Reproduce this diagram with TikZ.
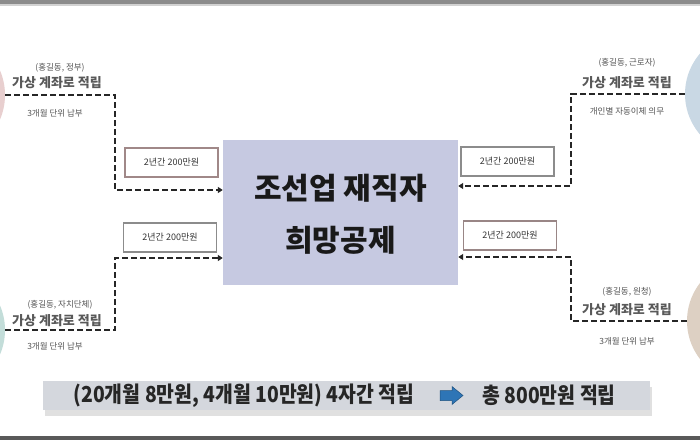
\documentclass[tikz,border=0pt]{standalone}
\usepackage{fontspec}
\setmainfont{Noto Sans CJK KR}
\newfontfamily\cjkc[FakeStretch=0.88]{Noto Sans CJK KR}
\usetikzlibrary{arrows.meta}
\definecolor{mainfill}{HTML}{C6C9E1}
\definecolor{bannerfill}{HTML}{D4D7DD}
\definecolor{labelgray}{HTML}{555555}
\definecolor{pinkc}{HTML}{E8CFCF}
\definecolor{bluec}{HTML}{C9D8E4}
\definecolor{tealc}{HTML}{C3DDD9}
\definecolor{beigec}{HTML}{DDD0C3}
\definecolor{arrowblue}{HTML}{2E75B6}
\definecolor{boxbrown}{HTML}{A08888}
\definecolor{boxgray}{HTML}{8C8C8C}
\tikzset{
  dl/.style={line width=2.2pt,dash pattern=on 6pt off 3pt,black!85},
  dlarrow/.style={dl,-{Triangle[length=5pt,width=6pt]}},
  amtbox/.style={draw=#1,line width=1.2pt,fill=white,minimum width=93pt,minimum height=29pt,inner sep=0pt,font=\fontsize{9}{11}\selectfont,text=black!80},
  who/.style={font=\fontsize{8.5}{10}\selectfont,text=labelgray},
  acct/.style={font=\fontsize{13}{14}\bfseries\selectfont,text=black!65},
  note/.style={font=\fontsize{8.5}{10}\selectfont,text=labelgray},
  party/.style={circle,minimum size=124pt,inner sep=0pt,draw=none,fill=#1},
  bigtext/.style={font=\fontsize{30}{32}\bfseries\selectfont,text=black!90},
  bantext/.style={font=\cjkc\bfseries\fontsize{22}{24}\selectfont,text=black!85},
}
\begin{document}
\begin{tikzpicture}[x=1pt,y=1pt]
\useasboundingbox (0,0) rectangle (700,440);
\clip (0,0) rectangle (700,440);
\fill[white] (0,0) rectangle (700,440);
% top and bottom rules
\fill[gray!90] (0,436) rectangle (700,440);
\fill[gray!35] (0,434) rectangle (700,436);
\fill[black!65] (0,0) rectangle (700,4);
% parties (circles cut by the frame)
\node[party=pinkc] (cTL) at (-57,345) {};
\node[party=bluec] (cTR) at (747,346) {};
\node[party=tealc] (cBL) at (-57,110) {};
\node[party=beigec] (cBR) at (749,119) {};
% central box
\node[fill=mainfill,minimum width=235pt,minimum height=145pt,inner sep=0pt] (main) at (340.5,227.5) {};
\node[bigtext] (t1) at (340.5,252) {조선업 재직자};
\node[bigtext] (t2) at (340.5,200) {희망공제};
% amount boxes
\node[amtbox=boxbrown] (bTL) at (171.5,277.5) {2년간 200만원};
\node[amtbox=boxgray] (bTR) at (507.5,278.5) {2년간 200만원};
\node[amtbox=boxgray] (bBL) at (170,202.5) {2년간 200만원};
\node[amtbox=boxbrown!80!gray] (bBR) at (510,204.5) {2년간 200만원};
% corners of connectors
\coordinate (kTL1) at (115,345); \coordinate (kTL2) at (115,250);
\coordinate (kTR1) at (571,346); \coordinate (kTR2) at (571,254);
\coordinate (kBL1) at (115,110); \coordinate (kBL2) at (115,182);
\coordinate (kBR1) at (571,119); \coordinate (kBR2) at (571,183);
\draw[dlarrow] (cTL.east) -- (kTL1) -- (kTL2) -- (kTL2 -| main.west);
\draw[dlarrow] (cTR.west) -- (kTR1) -- (kTR2) -- (kTR2 -| main.east);
\draw[dlarrow] (cBL.east) -- (kBL1) -- (kBL2) -- (kBL2 -| main.west);
\draw[dlarrow] (cBR.west) -- (kBR1) -- (kBR2) -- (kBR2 -| main.east);
% labels
\node[who] (wTL) at (60,372) {(홍길동, 정부)};
\node[acct] (aTL) at (57,357) {가상 계좌로 적립};
\node[note] (nTL) at (55,327) {3개월 단위 납부};
\node[who] (wTR) at (627,377) {(홍길동, 근로자)};
\node[acct] (aTR) at (627,357) {가상 계좌로 적립};
\node[note] (nTR) at (627,329) {개인별 자동이체 의무};
\node[who] (wBL) at (60,135) {(홍길동, 자치단체)};
\node[acct] (aBL) at (57,119) {가상 계좌로 적립};
\node[note] (nBL) at (55,94) {3개월 단위 납부};
\node[who] (wBR) at (627,148) {(홍길동, 원청)};
\node[acct] (aBR) at (627,130) {가상 계좌로 적립};
\node[note] (nBR) at (627,99) {3개월 단위 납부};
% banner
\fill[black!12] (45,24) rectangle (652,53);
\node[fill=bannerfill,minimum width=607pt,minimum height=29pt,inner sep=0pt] (banner) at (346.5,44.5) {};
\node[bantext] (s1) at (244,44.5) {(20개월 8만원, 4개월 10만원) 4자간 적립};
\coordinate (arr) at (440,44.5);
\fill[arrowblue,draw=arrowblue!70!black,line width=0.5pt]
  (arr) ++(0,-5) -- ++(12,0) -- ++(0,-4) -- ++(11,9) -- ++(-11,9) -- ++(0,-4) -- ++(-12,0) -- cycle;
\node[bantext] (s2) at (549,44.5) {총 800만원 적립};
\end{tikzpicture}
\end{document}
